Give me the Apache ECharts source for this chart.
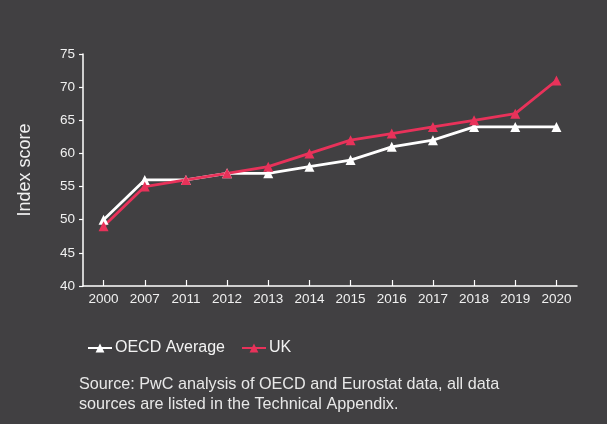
<!DOCTYPE html>
<html>
<head>
<meta charset="utf-8">
<script src="https://cdn.jsdelivr.net/npm/echarts@6/dist/echarts.min.js"></script>
<style>
  html, body { margin: 0; padding: 0; background: #414042; }
  #chart { width: 607px; height: 424px; }
</style>
</head>
<body>
<div id="chart"></div>
<script>
// Index scores by year
const years = ['2000', '2007', '2011', '2012', '2013', '2014', '2015', '2016', '2017', '2018', '2019', '2020'];
const oecdAverage = [50, 56, 56, 57, 57, 58, 59, 61, 62, 64, 64, 64];
const uk = [49, 55, 56, 57, 58, 60, 62, 63, 64, 65, 66, 71];

const FONT = '"Liberation Sans", Arial, sans-serif';
const chart = echarts.init(document.getElementById('chart'));

chart.setOption({
  backgroundColor: '#414042',
  animation: false,
  textStyle: { fontFamily: FONT },
  grid: { left: 83, right: 30, top: 54, bottom: 138 },
  legend: {
    left: 82,
    top: 335,
    itemGap: 16,
    itemWidth: 24,
    itemHeight: 11,
    textStyle: { color: '#f2f2f2', fontSize: 16, fontFamily: FONT, padding: [0, 0, 0, -2] },
    data: ['OECD Average', 'UK']
  },
  graphic: [
    {
      type: 'text',
      left: 79,
      top: 374,
      style: {
        text: 'Source: PwC analysis of OECD and Eurostat data, all data\nsources are listed in the Technical Appendix.',
        fill: '#e8e8e8',
        font: '16.2px ' + FONT,
        lineHeight: 20.5
      }
    }
  ],
  xAxis: {
    type: 'category',
    data: years,
    boundaryGap: true,
    axisLine: { lineStyle: { color: '#ffffff', width: 1.5 } },
    axisTick: { show: true, inside: true, alignWithLabel: true, length: 6, lineStyle: { color: '#ffffff', width: 1.2 } },
    axisLabel: { color: '#f0f0f0', fontSize: 13.5, margin: 6, fontFamily: FONT },
    splitLine: { show: false }
  },
  yAxis: {
    type: 'value',
    min: 40,
    max: 75,
    interval: 5,
    name: 'Index score',
    nameLocation: 'middle',
    nameGap: 49,
    nameRotate: 90,
    nameTextStyle: { color: '#f0f0f0', fontSize: 18, fontFamily: FONT },
    axisLine: { show: true, lineStyle: { color: '#ffffff', width: 1.5 } },
    axisTick: { show: true, length: 4, lineStyle: { color: '#ffffff', width: 1.2 } },
    axisLabel: { color: '#f0f0f0', fontSize: 13.5, margin: 8, fontFamily: FONT },
    splitLine: { show: false }
  },
  series: [
    {
      name: 'OECD Average',
      type: 'line',
      data: oecdAverage,
      symbol: 'triangle',
      symbolSize: 10,
      itemStyle: { color: '#ffffff' },
      lineStyle: { color: '#ffffff', width: 2.8 }
    },
    {
      name: 'UK',
      type: 'line',
      data: uk,
      symbol: 'triangle',
      symbolSize: 10,
      itemStyle: { color: '#e8325a' },
      lineStyle: { color: '#e8325a', width: 2.8 }
    }
  ]
});
</script>
</body>
</html>
